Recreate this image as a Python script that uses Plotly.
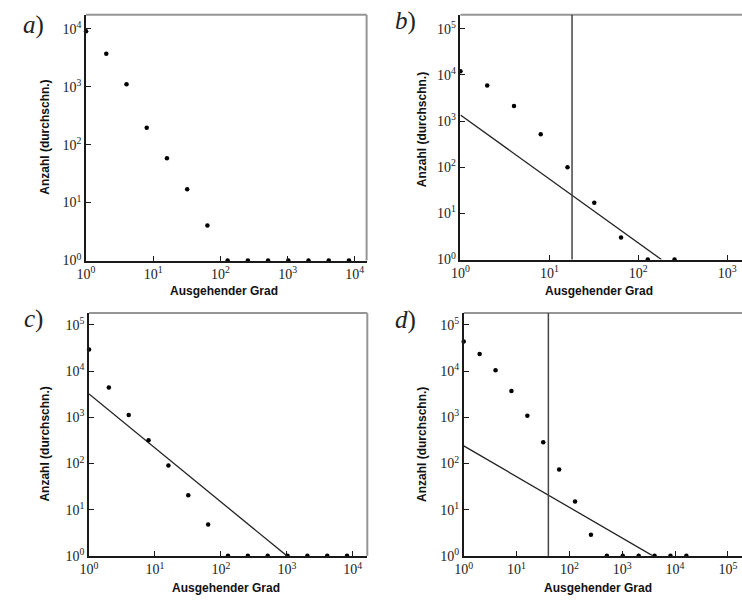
import plotly.graph_objects as go

W, H = 742, 606

# ---------------- data ----------------
degree = [1, 2, 4, 8, 16, 32, 64, 128, 256, 512, 1024, 2048, 4096, 8192, 16384]

count_a = [9000, 3700, 1100, 195, 58, 17, 4, 1, 1, 1, 1, 1, 1, 1]
count_b = [12000, 5900, 2100, 515, 100, 17, 3, 1, 1]
count_c = [29500, 4400, 1120, 320, 90, 20.5, 4.8, 1, 1, 1, 1, 1, 1, 1]
count_d = [44000, 23500, 10400, 3700, 1080, 290, 74, 15, 2.85, 1, 1, 1, 1, 1, 1]

fit_b_x = [1, 182]
fit_b_y = [1350, 1]
fit_c_x = [1, 1000]
fit_c_y = [3200, 1]
fit_d_x = [1, 3800]
fit_d_y = [240, 1]

cutoff_b = 18
cutoff_d = 40

panel_labels = ["a", "b", "c", "d"]
x_title = "Ausgehender Grad"
y_title = "Anzahl (durchschn.)"

# ------------- layout geometry (pixels) -------------
panels = [
    dict(l=78, r=362, t=15, b=264, xr=4.176, yr=4.24, xt=4, yt=4),
    dict(l=457, r=742, t=15, b=263, xr=3.167, yr=5.30, xt=3, yt=5),
    dict(l=81, r=362.7, t=317.3, b=563.3, xr=4.22, yr=5.256, xt=4, yt=5),
    dict(l=460.3, r=742, t=317.3, b=563.3, xr=5.267, yr=5.256, xt=5, yt=5),
]

series = [
    (count_a, None, None, None),
    (count_b, fit_b_x, fit_b_y, cutoff_b),
    (count_c, fit_c_x, fit_c_y, None),
    (count_d, fit_d_x, fit_d_y, cutoff_d),
]

fig = go.Figure()
shapes = []
annotations = []

SERIF = "Liberation Serif"
SANS = "Liberation Sans"


def sup(n):
    return "10<sup>%d</sup>" % n


label_pos = [(25, 25), (401, 21), (25, 323), (401, 324)]
ytitle_pos = [(37, 139), (418, 131), (37, 450), (418, 450)]
xtitle_pos = [(218, 295), (597, 295), (220, 596), (596, 596)]

for i, (p, (cnt, fx, fy, cut)) in enumerate(zip(panels, series)):
    k = "" if i == 0 else str(i + 1)
    xa, ya = "x" + k, "y" + k
    xd = [p["l"] / W, min(p["r"] / W, 1.0)]
    yd = [1 - p["b"] / H, 1 - p["t"] / H]
    axis_common = dict(
        type="log", showgrid=False, zeroline=False, showline=True,
        linecolor="#1a1a1a", linewidth=1.6, ticks="inside", ticklen=5,
        tickwidth=1, tickcolor="#1a1a1a",
        tickfont=dict(family=SERIF, size=14, color="#222"),
    )
    fig.layout["xaxis" + k] = dict(
        axis_common, domain=xd, range=[0, p["xr"]], anchor=ya,
        tickvals=[10 ** n for n in range(p["xt"] + 1)],
        ticktext=[sup(n) for n in range(p["xt"] + 1)],
    )
    fig.layout["yaxis" + k] = dict(
        axis_common, domain=yd, range=[0, p["yr"]], anchor=xa,
        tickvals=[10 ** n for n in range(p["yt"] + 1)],
        ticktext=[sup(n) for n in range(p["yt"] + 1)],
    )

    # gray frame (top + right)
    shapes.append(dict(type="line", xref=xa + " domain", yref=ya + " domain",
                       x0=0, x1=1, y0=1, y1=1, layer="below",
                       line=dict(color="#959595", width=2)))
    if p["r"] < W - 1:
        shapes.append(dict(type="line", xref=xa + " domain", yref=ya + " domain",
                           x0=1, x1=1, y0=0, y1=1, layer="below",
                           line=dict(color="#959595", width=2)))

    if cut is not None:
        shapes.append(dict(type="line", xref=xa, yref=ya + " domain",
                           x0=cut, x1=cut, y0=0, y1=1,
                           line=dict(color="#444", width=1.5)))

    if fx is not None:
        fig.add_trace(go.Scatter(x=fx, y=fy, mode="lines", xaxis=xa, yaxis=ya,
                                 line=dict(color="#222", width=1.3),
                                 showlegend=False, hoverinfo="skip"))

    fig.add_trace(go.Scatter(x=degree[:len(cnt)], y=cnt, mode="markers",
                             xaxis=xa, yaxis=ya, cliponaxis=False,
                             marker=dict(color="black", size=4.5),
                             showlegend=False))

    lx, ly = label_pos[i]
    annotations.append(dict(text="<i>%s</i>)" % panel_labels[i], x=lx / W, y=1 - ly / H,
                            xref="paper", yref="paper", showarrow=False,
                            xanchor="center", yanchor="middle",
                            font=dict(family=SERIF, size=25, color="#222")))
    tx, ty = ytitle_pos[i]
    annotations.append(dict(text="<b>%s</b>" % y_title, x=tx / W, y=1 - ty / H,
                            xref="paper", yref="paper", showarrow=False, textangle=-90,
                            xanchor="center", yanchor="middle",
                            font=dict(family=SANS, size=12, color="#111")))
    tx, ty = xtitle_pos[i]
    annotations.append(dict(text="<b>%s</b>" % x_title, x=tx / W, y=1 - ty / H,
                            xref="paper", yref="paper", showarrow=False,
                            xanchor="center", yanchor="middle",
                            font=dict(family=SANS, size=12, color="#111")))

fig.update_layout(
    width=W, height=H, autosize=False,
    margin=dict(l=0, r=0, t=0, b=0),
    paper_bgcolor="white", plot_bgcolor="white",
    shapes=shapes, annotations=annotations, showlegend=False,
)

fig.write_html("out.html", config={"displayModeBar": False},
               post_script="document.body.style.margin='0px';")
